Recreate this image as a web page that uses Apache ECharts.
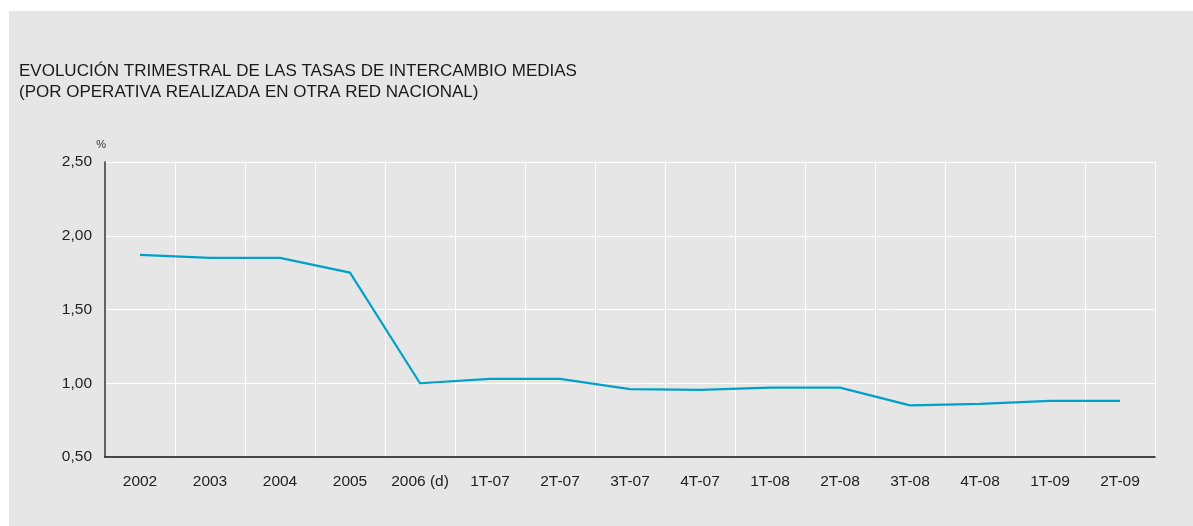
<!DOCTYPE html>
<html>
<head>
<meta charset="utf-8">
<script src="https://cdn.jsdelivr.net/npm/echarts@6/dist/echarts.min.js"></script>
<style>
html,body{margin:0;padding:0;background:#ffffff;}
#chart{position:absolute;left:9px;top:11px;width:1184px;height:515px;background:#e6e6e6;}
</style>
</head>
<body>
<div id="chart"></div>
<script>
var titleLines = ['EVOLUCIÓN TRIMESTRAL DE LAS TASAS DE INTERCAMBIO MEDIAS', '(POR OPERATIVA REALIZADA EN OTRA RED NACIONAL)'];
var unitLabel = '%';
var categories = ['2002','2003','2004','2005','2006 (d)','1T-07','2T-07','3T-07','4T-07','1T-08','2T-08','3T-08','4T-08','1T-09','2T-09'];
var tasas = [1.87, 1.85, 1.85, 1.75, 1.00, 1.03, 1.03, 0.96, 0.955, 0.97, 0.97, 0.85, 0.86, 0.88, 0.88];
var yMin = 0.5, yMax = 2.5, yStep = 0.5;

var chart = echarts.init(document.getElementById('chart'), null, {renderer:'canvas'});
var font = '"Liberation Sans", Arial, Helvetica, sans-serif';
chart.setOption({
  backgroundColor: '#e6e6e6',
  animation: false,
  textStyle: {fontFamily: font},
  title: {
    text: titleLines.join('\n'),
    left: 10, top: 50, padding: 0,
    textStyle: {fontFamily: font, fontSize: 17, fontWeight: 'normal', color: '#1a1a1a', lineHeight: 21}
  },
  grid: {left: 96, top: 151, width: 1050, height: 295, containLabel: false},
  xAxis: {
    type: 'category',
    data: categories,
    boundaryGap: true,
    axisLine: {show: true, lineStyle: {color: '#111111', width: 1.5}},
    axisTick: {show: false},
    splitLine: {show: true, lineStyle: {color: '#ffffff', width: 1}},
    axisLabel: {color: '#222222', fontSize: 15.5, margin: 17, fontFamily: font, interval: 0}
  },
  yAxis: {
    type: 'value',
    min: yMin, max: yMax, interval: yStep,
    name: unitLabel,
    nameLocation: 'end',
    nameGap: 12,
    nameTextStyle: {color: '#333333', fontSize: 11, align: 'right', padding: [0, -1, 0, 0], fontFamily: font},
    axisLine: {show: true, lineStyle: {color: '#333333', width: 1.5}},
    axisTick: {show: false},
    splitLine: {show: true, lineStyle: {color: '#ffffff', width: 1}},
    axisLabel: {
      color: '#222222', fontSize: 15.5, margin: 13, fontFamily: font,
      formatter: function (v) { return v.toFixed(2).replace('.', ','); }
    }
  },
  series: [{
    type: 'line',
    data: tasas,
    symbol: 'none',
    lineStyle: {color: '#00a0c8', width: 2.2},
    itemStyle: {color: '#00a0c8'}
  }]
});
</script>
</body>
</html>
